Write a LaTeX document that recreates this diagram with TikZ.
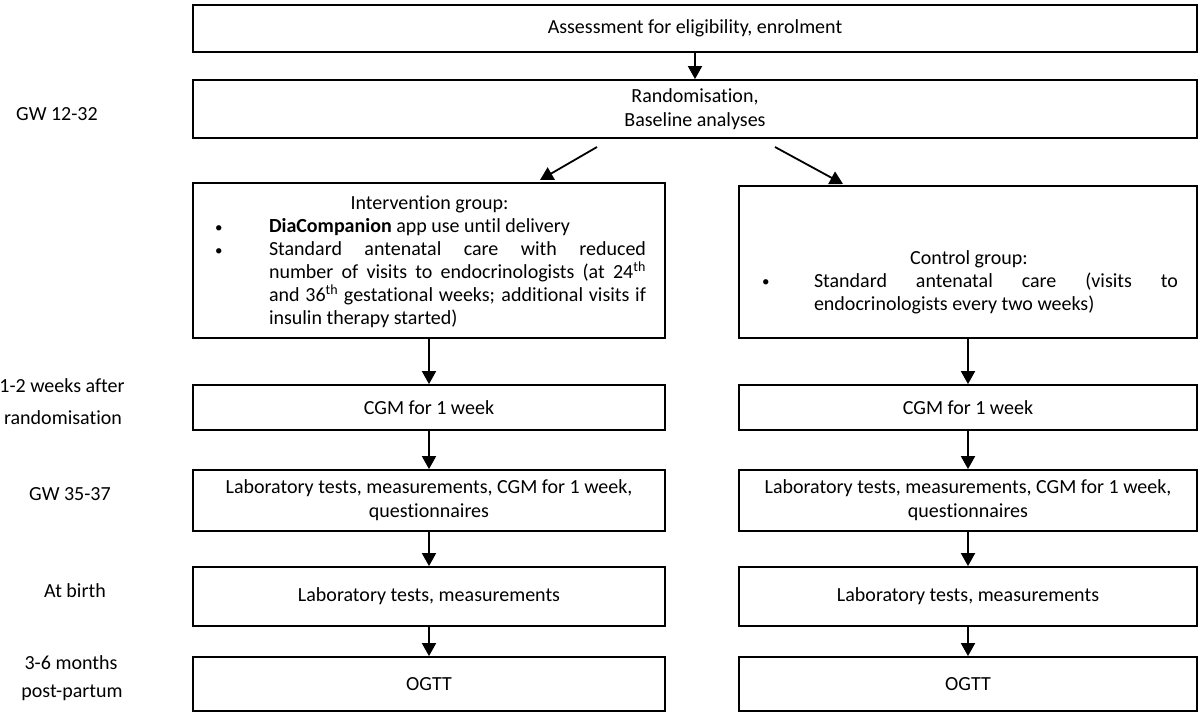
\documentclass[tikz,border=0pt]{standalone}
\usepackage{fontspec}
\setmainfont{Carlito}[Ligatures={NoCommon,NoRare,NoContextual}]
\usetikzlibrary{arrows.meta}
\newcommand{\smallbul}{\raisebox{0.5pt}{\fontsize{15}{15}\selectfont\textbullet}}
\begin{document}
\begin{tikzpicture}[x=1pt,y=-1pt,
  box/.style={draw, line width=1.8pt, inner sep=0pt, align=center,
    font=\fontsize{20}{24}\selectfont},
  txt/.style={inner sep=0pt, font=\fontsize{20}{23}\selectfont},
  lbl/.style={inner sep=0pt, anchor=base, font=\fontsize{20}{24}\selectfont},
  arr/.style={line width=1.8pt, -{Triangle[length=13pt,width=14pt]}}]
\useasboundingbox (0,0) rectangle (1200,716);
% top boxes
\node[box, minimum width=1004pt, minimum height=47pt] (assess) at (695,28.5) {Assessment for eligibility, enrolment};
\node[box, minimum width=1004pt, minimum height=58pt] (rand) at (695,109) {Randomisation,\\Baseline analyses};
% group boxes
\node[box, minimum width=472pt, minimum height=155pt] (intv) at (429,260.5) {};
\node[box, minimum width=458pt, minimum height=152pt] (ctrl) at (968,262) {};
\node[txt, text width=433pt, align=justify] (intvtxt) at (429.5,262) {%
{\centering Intervention group:\par}
\noindent\hangindent=56pt\hangafter=1\makebox[56pt][l]{\hspace{2pt}\smallbul}\textbf{DiaCompanion} app use until delivery\par
\noindent\hangindent=56pt\hangafter=1\makebox[56pt][l]{\hspace{2pt}\smallbul}Standard antenatal care with reduced\linebreak number of visits to endocrinologists (at 24\textsuperscript{th}\linebreak and 36\textsuperscript{th} gestational weeks; additional visits if\linebreak insulin therapy started)\par}; 
\node[txt, text width=418pt, align=justify, anchor=north] (ctrltxt) at (969,250) {%
{\centering Control group:\par}
\noindent\hangindent=54pt\hangafter=1\makebox[54pt][l]{\hspace{2pt}\smallbul}Standard antenatal care (visits to\linebreak endocrinologists every two weeks)\par};
% left column
\node[box, minimum width=472pt, minimum height=45pt] (cgmL) at (429,407.5) {CGM for 1 week};
\node[box, minimum width=472pt, minimum height=61pt] (labL) at (429,500.5) {Laboratory tests, measurements, CGM for 1 week,\\questionnaires};
\node[box, minimum width=472pt, minimum height=59pt] (birthL) at (429,596.5) {Laboratory tests, measurements};
\node[box, minimum width=472pt, minimum height=54pt] (ogttL) at (429,684) {OGTT};
% right column
\node[box, minimum width=458pt, minimum height=45pt] (cgmR) at (968,407.5) {CGM for 1 week};
\node[box, minimum width=458pt, minimum height=61pt] (labR) at (968,500.5) {Laboratory tests, measurements, CGM for 1 week,\\questionnaires};
\node[box, minimum width=458pt, minimum height=59pt] (birthR) at (968,596.5) {Laboratory tests, measurements};
\node[box, minimum width=458pt, minimum height=54pt] (ogttR) at (968,684) {OGTT};
% time labels
\node[lbl] (gw1) at (57,120) {GW 12-32};
\node[lbl] (wk1) at (62,392) {1-2 weeks after};
\node[lbl] (wk2) at (63,424) {randomisation};
\node[lbl] (gw2) at (70,500) {GW 35-37};
\node[lbl] (birth) at (75,597) {At birth};
\node[lbl] (mo1) at (71,669) {3-6 months};
\node[lbl] (mo2) at (72,697) {post-partum};
% arrows
\draw[arr] (assess.south) -- (rand.north);
\coordinate (dL0) at (597,147);
\coordinate (dL1) at (540,180);
\coordinate (dR0) at (775,147);
\coordinate (dR1) at (843,184);
\draw[arr] (dL0) -- (dL1);
\draw[arr] (dR0) -- (dR1);
\draw[arr] (intv.south) -- (cgmL.north);
\draw[arr] (cgmL.south) -- (labL.north);
\draw[arr] (labL.south) -- (birthL.north);
\draw[arr] (birthL.south) -- (ogttL.north);
\draw[arr] (ctrl.south) -- (cgmR.north);
\draw[arr] (cgmR.south) -- (labR.north);
\draw[arr] (labR.south) -- (birthR.north);
\draw[arr] (birthR.south) -- (ogttR.north);
\end{tikzpicture}
\end{document}
